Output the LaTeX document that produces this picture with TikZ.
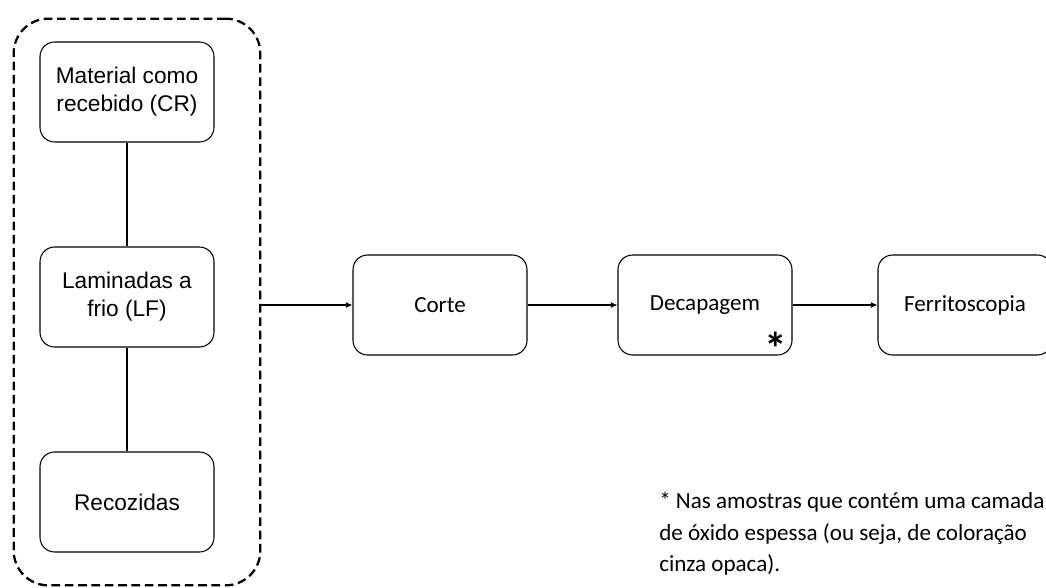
\documentclass[tikz,border=0pt]{standalone}
\usepackage{fontspec}
\setmainfont{Carlito}
\newfontfamily\arialfont{Liberation Sans}
\usetikzlibrary{arrows.meta}
\tikzset{
  caixa/.style={draw, line width=0.8pt, rounded corners=11pt, align=center,
    minimum width=130.5pt, minimum height=75pt, font=\fontsize{17.3}{21}\selectfont},
  amostra/.style={caixa, font=\arialfont\fontsize{17}{21}\selectfont},
  grupo/.style={draw, line width=1.7pt, dash pattern=on 6.5pt off 3.5pt, rounded corners=26pt,
    minimum width=185pt, minimum height=425pt},
  seta/.style={-{Latex[length=5pt,width=4.5pt]}, line width=0.8pt}
}
\begin{document}
\begin{tikzpicture}[x=0.75pt,y=-0.75pt]
\useasboundingbox (0,0) rectangle (1046,588);
% condicoes das amostras
\node[grupo] (grupo) at (137,302) {};
\node[amostra] (cr) at (127,92) {Material como\\recebido (CR)};
\node[amostra] (lf) at (127,297) {Laminadas a\\frio (LF)};
\node[amostra] (rec) at (127,502) {Recozidas};
\draw[line width=0.8pt] (cr) -- (lf);
\draw[line width=0.8pt] (lf) -- (rec);
% etapas de preparo
\node[caixa] (corte) at (440,305) {Corte};
\node[caixa] (decap) at (705,305) {Decapagem};
\node[caixa] (ferrit) at (965,305) {Ferritoscopia};
\node[font=\bfseries\fontsize{34}{34}\selectfont, inner sep=0pt] (ast) at (776,348) {*};
\draw[seta] (grupo.east |- corte) -- (corte);
\draw[seta] (corte) -- (decap);
\draw[seta] (decap) -- (ferrit);
% nota
\node[anchor=north west, align=left, inner sep=0pt,
  font=\fontsize{17.3}{23.6}\selectfont] (nota) at (659,492)
  {* Nas amostras que contém uma camada\\de óxido espessa (ou seja, de coloração\\cinza opaca).};
\end{tikzpicture}
\end{document}
